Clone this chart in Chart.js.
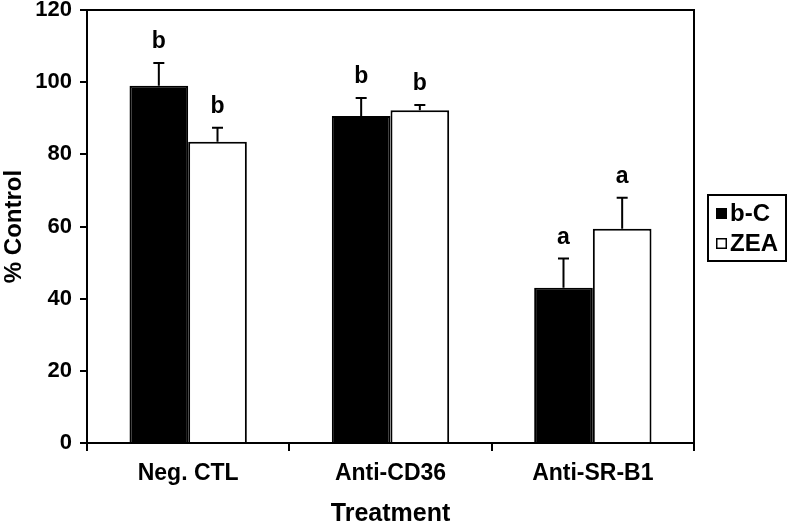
<!DOCTYPE html>
<html>
<head>
<meta charset="utf-8">
<script src="https://cdn.jsdelivr.net/npm/chart.js@4"></script>
<style>
  html, body { margin: 0; padding: 0; background: #fff; }
  #wrap { width: 788px; height: 525px; }
</style>
</head>
<body>
<div id="wrap"><canvas id="c" width="788" height="525"></canvas></div>
<script>
// ---- data ----
const categories = ['Neg. CTL', 'Anti-CD36', 'Anti-SR-B1'];
const seriesNames = ['b-C', 'ZEA'];
const bcValues = [99.0, 90.6, 43.0];
const zeaValues = [83.5, 92.2, 59.4];
const bcErrors = [6.3, 5.0, 8.1];
const zeaErrors = [3.9, 1.5, 8.6];
const bcLetters = ['b', 'b', 'a'];
const zeaLetters = ['b', 'b', 'a'];
const yTicks = [0, 20, 40, 60, 80, 100, 120];
const xTitle = 'Treatment';
const yTitle = '% Control';

const FONT = "'Liberation Sans', Arial, sans-serif";

const extrasPlugin = {
  id: 'extras',
  afterDatasetsDraw(chart) {
    const ctx = chart.ctx;
    const ys = chart.scales.y;
    const ca = chart.chartArea;
    ctx.save();
    ctx.strokeStyle = '#000';
    ctx.fillStyle = '#000';
    ctx.lineWidth = 2;
    // error bars + letters
    chart.data.datasets.forEach((ds, di) => {
      const meta = chart.getDatasetMeta(di);
      meta.data.forEach((bar, i) => {
        const v = ds.data[i];
        const top = ys.getPixelForValue(v + ds.errors[i]);
        const base = ys.getPixelForValue(v);
        ctx.beginPath();
        ctx.moveTo(bar.x, base);
        ctx.lineTo(bar.x, top);
        ctx.moveTo(bar.x - 5.5, top);
        ctx.lineTo(bar.x + 5.5, top);
        ctx.stroke();
        ctx.font = 'bold 23px ' + FONT;
        ctx.textAlign = 'center';
        ctx.textBaseline = 'alphabetic';
        ctx.fillText(ds.letters[i], bar.x, top - 15);
      });
    });
    // top and right frame
    ctx.beginPath();
    ctx.moveTo(ca.left, ca.top);
    ctx.lineTo(ca.right, ca.top);
    ctx.lineTo(ca.right, ca.bottom);
    ctx.stroke();
    // legend
    const lx = 708, ly = 195, lw = 78, lh = 66;
    ctx.lineWidth = 2;
    ctx.strokeRect(lx, ly, lw, lh);
    ctx.font = 'bold 24px ' + FONT;
    ctx.textAlign = 'left';
    ctx.textBaseline = 'alphabetic';
    chart.data.datasets.forEach((ds, di) => {
      const sy = ly + 13 + di * 30;
      ctx.fillStyle = ds.backgroundColor;
      ctx.fillRect(716, sy, 11, 11);
      ctx.lineWidth = 1.5;
      ctx.strokeStyle = '#000';
      ctx.strokeRect(716.75, sy + 0.75, 9.5, 9.5);
      ctx.fillStyle = '#000';
      ctx.fillText(ds.label, 730, sy + 13);
    });
    ctx.restore();
  }
};

new Chart(document.getElementById('c'), {
  type: 'bar',
  data: {
    labels: categories,
    datasets: [
      { label: seriesNames[0], data: bcValues, errors: bcErrors, letters: bcLetters,
        backgroundColor: '#000000', borderColor: '#000', borderWidth: 2 },
      { label: seriesNames[1], data: zeaValues, errors: zeaErrors, letters: zeaLetters,
        backgroundColor: '#ffffff', borderColor: '#000', borderWidth: 2 }
    ]
  },
  options: {
    responsive: false,
    animation: false,
    devicePixelRatio: 1,
    layout: { padding: { left: 0, top: 10, right: 94, bottom: 0 } },
    datasets: { bar: { categoryPercentage: 0.58, barPercentage: 1.0 } },
    plugins: { legend: { display: false }, tooltip: { enabled: false } },
    scales: {
      x: {
        grid: { display: true, drawOnChartArea: false, drawTicks: true, tickLength: 8, color: '#000', lineWidth: 2, offset: true },
        border: { display: true, color: '#000', width: 2 },
        ticks: { color: '#000', font: { family: FONT, size: 23, weight: 'bold' }, padding: 9, maxRotation: 0 },
        title: { display: true, text: xTitle, color: '#000', font: { family: FONT, size: 25, weight: 'bold' }, padding: { top: 0, bottom: -4 } },
        afterFit(s) { s.height = 82; s.paddingLeft = 0; s.paddingRight = 0; }
      },
      y: {
        min: 0, max: 120,
        afterBuildTicks(s) { s.ticks = yTicks.map(v => ({ value: v })); },
        grid: { display: true, drawOnChartArea: false, drawTicks: true, tickLength: 7, color: '#000', lineWidth: 2 },
        border: { display: true, color: '#000', width: 2 },
        ticks: { color: '#000', font: { family: FONT, size: 22, weight: 'bold' }, padding: 8 },
        title: { display: true, text: yTitle, color: '#000', font: { family: FONT, size: 24, weight: 'bold' }, padding: { top: 0, bottom: 0 } },
        afterFit(s) { s.width = 87; s.paddingTop = 0; s.paddingBottom = 0; }
      }
    }
  },
  plugins: [extrasPlugin]
});
</script>
</body>
</html>
